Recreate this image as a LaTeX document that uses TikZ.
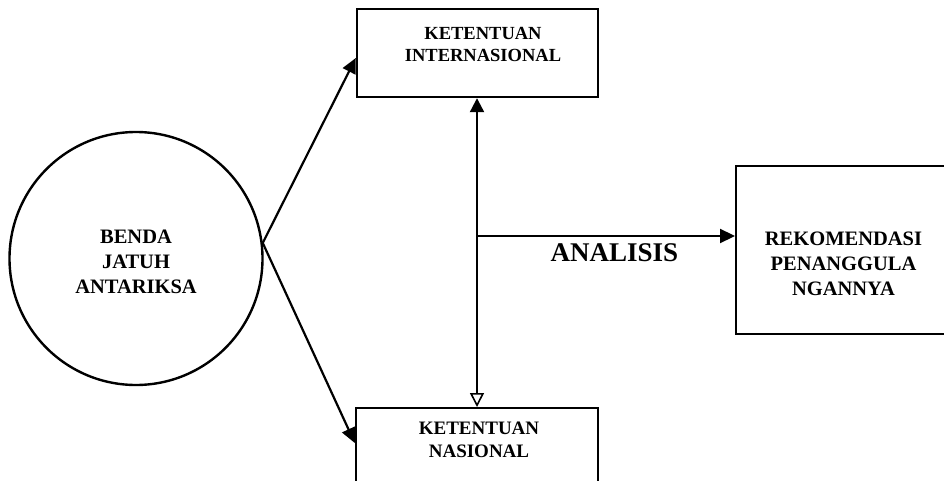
\documentclass[tikz,border=0pt]{standalone}
\usepackage{fontspec}
\setmainfont{Liberation Serif}
\usetikzlibrary{arrows.meta}
\begin{document}
\begin{tikzpicture}[x=1pt,y=-1pt,
  boxline/.style={draw=black, line width=2.4pt},
  lbl/.style={font=\bfseries\fontsize{18.5}{22}\selectfont, align=center, inner sep=0pt},
  conn/.style={line width=2.2pt},
  tipfill/.style={-{Triangle[length=15pt,width=14pt]}},
]
\useasboundingbox (0,0) rectangle (944,481);
\clip (0,0) rectangle (944,481);
\fill[white] (0,0) rectangle (944,481);

% circle
\node[boxline, circle, minimum size=253pt, inner sep=0pt] (circ) at (136,258.5) {};
\node[lbl, font=\bfseries\fontsize{20.5}{25}\selectfont] (circlbl) at (136,261.5) {BENDA\\JATUH\\ANTARIKSA};

% top box
\node[boxline, rectangle, minimum width=241pt, minimum height=88pt, inner sep=0pt] (tb) at (477.5,53) {};
\node[lbl] (tblbl) at (483,44.5) {KETENTUAN\\INTERNASIONAL};

% bottom box (cut by the edge)
\node[boxline, rectangle, minimum width=242pt, minimum height=120pt, inner sep=0pt, anchor=north] (bb) at (477,407) {};
\node[lbl, font=\bfseries\fontsize{19}{23}\selectfont] (bblbl) at (479,440) {KETENTUAN\\NASIONAL};

% right box (cut by the edge)
\node[boxline, rectangle, minimum width=240pt, minimum height=168pt, inner sep=0pt, anchor=north west] (rb) at (735,165) {};
\node[lbl, font=\bfseries\fontsize{20.5}{25}\selectfont] (rblbl) at (843.5,263.5) {REKOMENDASI\\PENANGGULA\\NGANNYA};

% connectors from circle
\coordinate (cstart) at (circ.7);
\coordinate (tbin) at ([yshift=-5pt]tb.west);
\coordinate (bbin) at ([yshift=-36pt]bb.north west);
\draw[conn, tipfill] (cstart) -- (tbin);
\draw[conn, tipfill] (cstart) -- (bbin);

% vertical double arrow
\coordinate (vtop) at (477,0 |- tb.south);
\coordinate (vbot) at (477,0 |- bb.north);
\draw[conn, {Triangle[length=14pt,width=14pt]}-{Triangle[open,length=14pt,width=14pt,line width=1.6pt]}] (vtop) -- (vbot);

% analisis arrow
\coordinate (j) at (477,236);
\draw[conn, tipfill] (j) -- (j -| rb.west);
\node[font=\bfseries\fontsize{27}{30}\selectfont, inner sep=0pt] (anl) at (614.5,252.5) {ANALISIS};
\end{tikzpicture}
\end{document}
